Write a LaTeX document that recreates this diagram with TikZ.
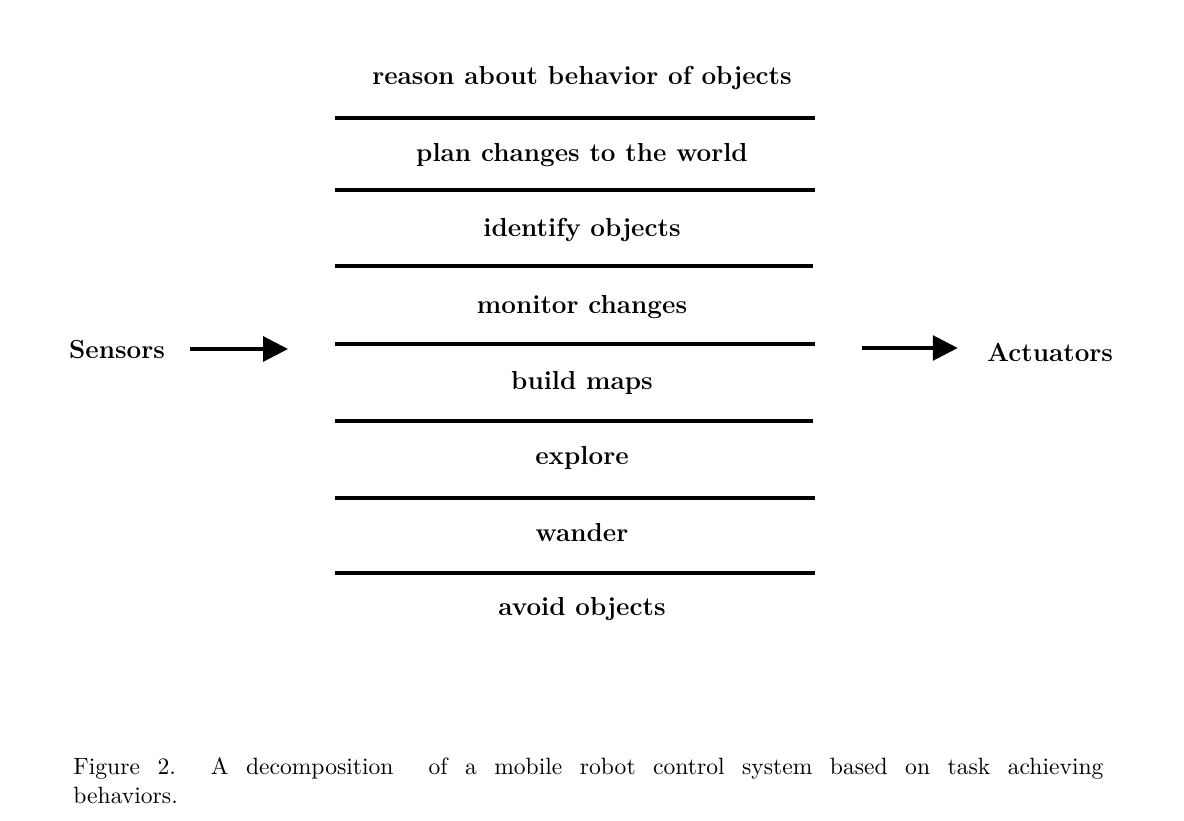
\documentclass[tikz,border=0pt]{standalone}
\usepackage{tikz}
\usetikzlibrary{arrows.meta}

\tikzset{
  layer/.style={font=\fontsize{11.5}{13}\selectfont\bfseries},
  rule/.style={line width=1.5pt},
  flow/.style={line width=1.4pt,-{Triangle[length=11pt,width=11pt]}}
}

\begin{document}
\begin{tikzpicture}[x=0.0155cm,y=-0.0155cm]
\useasboundingbox (0,0) rectangle (1184,820);
\node [layer] (reason) at (582, 78) {reason about behavior of objects};
\node [layer] (plan) at (582, 155) {plan changes to the world};
\node [layer] (identify) at (582, 230) {identify objects};
\node [layer] (monitor) at (582, 307) {monitor changes};
\node [layer] (maps) at (582, 383) {build maps};
\node [layer] (explore) at (582, 458) {explore};
\node [layer] (wander) at (582, 533) {wander};
\node [layer] (avoid) at (582, 609) {avoid objects};
\draw [rule] (335, 118) -- (815, 118);
\draw [rule] (335, 190) -- (815, 190);
\draw [rule] (335, 266) -- (813, 266);
\draw [rule] (335, 344) -- (815, 344);
\draw [rule] (335, 421) -- (813, 421);
\draw [rule] (335, 498) -- (815, 498);
\draw [rule] (335, 573) -- (815, 573);
\node [layer] (sensors) at (117, 350) {Sensors};
\node [layer] (actuators) at (1050, 352) {Actuators};
\coordinate (in) at (288, 349);
\coordinate (out) at (862, 348);
\draw [flow] ([xshift=0.26cm]sensors.east |- in) -- (in);
\draw [flow] (out) -- ([xshift=-0.33cm]actuators.west |- out);
\node [text width=1030*0.0155cm, align=justify, inner sep=0pt, anchor=north west,
       font=\fontsize{10.4}{12.8}\selectfont] (caption) at (73, 757)
  {Figure 2.\ \ A decomposition\ \ of a mobile robot control system based on task achieving\linebreak behaviors.};
\end{tikzpicture}
\end{document}
